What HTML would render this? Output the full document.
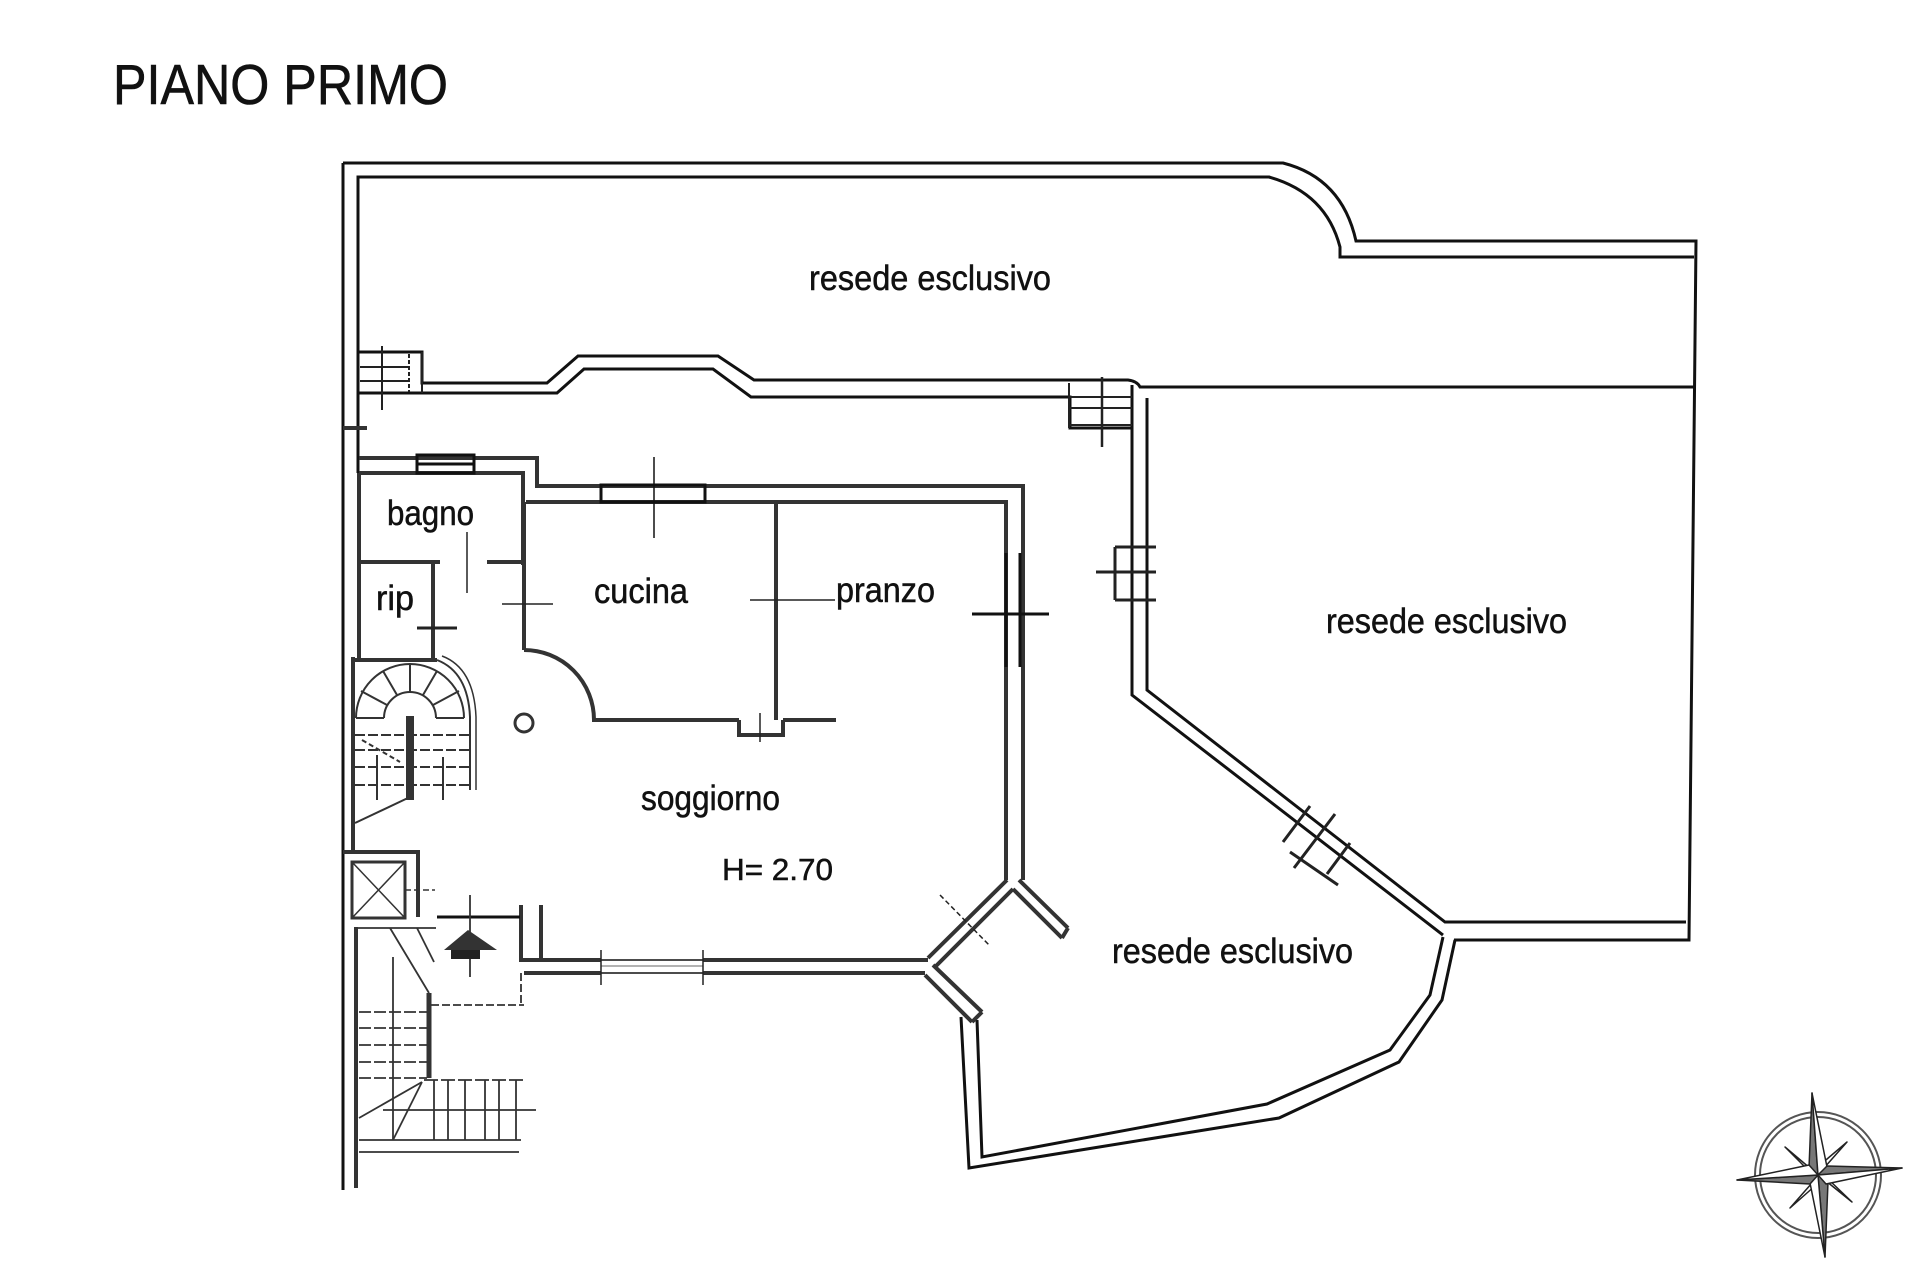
<!DOCTYPE html>
<html><head><meta charset="utf-8"><style>
html,body{margin:0;padding:0;background:#fff;}
svg{display:block;}
text{font-family:"Liberation Sans",sans-serif;fill:#111;}
</style></head><body>
<svg width="1920" height="1280" viewBox="0 0 1920 1280" xmlns="http://www.w3.org/2000/svg">
<rect width="1920" height="1280" fill="#fff"/>
<text x="113" y="104" font-size="57" textLength="335" lengthAdjust="spacingAndGlyphs" stroke="#111" stroke-width="0.6">PIANO PRIMO</text>

<g fill="none" stroke="#111" stroke-width="3" stroke-linejoin="miter">
<!-- outer boundary -->
<path d="M343,163 V1190"/>
<path d="M343,163 H1283 Q1342,178 1356,241 H1696 L1689,940 H1454"/>
<path d="M358,473 V177 H1269 Q1326,193 1340,247 V257 H1694"/>
<!-- band between top resede and house -->
<path d="M358,352 H422 V383 H547 L578,356 H718 L754,380 H1128 Q1137,381 1140,387 H1694"/>
<path d="M358,393 H557 L584,369 H713 L751,397 H1070 V428 H1132"/>
<!-- right resede -->
<path d="M1132,385 V695 L1443,935"/>
<path d="M1147,398 V690 L1445,922 H1686"/>
<!-- bottom resede -->
<path d="M961,1017 L969,1168 L1279,1118 L1399,1062 L1442,1000 L1455,940"/>
<path d="M977,1020 L982,1157 L1267,1104 L1390,1050 L1430,995 L1443,937"/>
</g>

<!-- stair blocks top -->
<g fill="none" stroke="#222" stroke-width="2">
<path d="M422,352 V393"/>
<path d="M360,367 H410 M360,381 H410"/>
<path d="M382,346 V410"/>
<path d="M409,354 V392" stroke-dasharray="4,2"/>
<path d="M1069,383 V428 M1069,397 H1132 M1069,408 H1132 M1069,425 H1132"/>
<path d="M1102,377 V447" stroke-width="2.5"/>
<path d="M1115,547 H1156 M1115,600 H1156 M1115,547 V600 M1096,572 H1156" stroke-width="3"/>
<!-- diagonal window right resede -->
<path d="M1283,842 L1310,806 M1294,868 L1335,814 M1327,874 L1350,843 M1290,852 L1338,885" stroke-width="3"/>
</g>

<!-- interior walls (grey scan) -->
<g fill="none" stroke="#333" stroke-width="4">
<path d="M343,428 H367"/>
<path d="M359,458 H537 V486 H1023 V880"/>
<path d="M359,473 H523 V565"/>
<path d="M526,502 H1006 V880"/>
<path d="M359,473 V658"/>
<path d="M359,562 H440 M487,562 H523"/>
<path d="M433,562 V658"/>
<path d="M524,502 V650"/>
<path d="M524,650 A70,70 0 0 1 594,720 H739 M783,720 H836"/>
<path d="M776,503 V720"/>
<path d="M739,720 V735 H783 V720"/>
<path d="M353,657 V850 M353,660 H437"/>
<path d="M343,852 H418 V917"/>
<path d="M429,993 V1078" stroke-width="5"/>
<path d="M521,905 V960 H601 M703,960 H928"/>
<path d="M541,905 V960"/>
<path d="M524,973 H601 M703,973 H925"/>
<path d="M356,927 V1188"/>
<path d="M1007,880 L928,958 M1013,889 L935,967"/>
<path d="M1019,880 L1068,928 M1013,889 L1062,938 M1062,938 L1068,928"/>
<path d="M933,965 L982,1012 M925,975 L972,1022 M972,1022 L982,1012"/>
</g>

<!-- windows black -->
<g fill="none" stroke="#111" stroke-width="3">
<rect x="417" y="455" width="57" height="18"/>
<path d="M417,464 H474"/>
<rect x="601" y="485" width="104" height="17"/>
<path d="M654,457 V538" stroke-width="1.5"/>
<path d="M1006,553 V667 M1020,553 V667"/>
<path d="M972,614 H1049"/>
<path d="M437,917 H520"/>
<path d="M601,960 H703 M601,973 H703" stroke-width="1.5"/>
<path d="M601,966 H703" stroke-width="1" stroke="#666"/>
</g>

<!-- thin marks -->
<g fill="none" stroke="#222" stroke-width="1.5">
<path d="M467,532 V593"/>
<path d="M417,628 H457" stroke-width="3"/>
<path d="M502,604 H553"/>
<path d="M750,600 H835"/>
<path d="M940,895 L990,946" stroke-dasharray="5,3"/>
<path d="M760,713 V742"/>
<path d="M601,950 V985 M703,950 V985"/>
<circle cx="524" cy="723" r="9" stroke="#333" stroke-width="3"/>
</g>

<!-- spiral stair -->
<g fill="none" stroke="#333" stroke-width="2">
<path d="M437,660 Q468,672 470,717 V790"/>
<path d="M442,656 Q474,668 476,717 V790" stroke-width="1.5"/>
<path d="M356,718 A54,54 0 0 1 464,718"/>
<path d="M384,718 A26,26 0 0 1 436,718"/>
<path d="M356,718 H384 M361,691 L387,705 M383,671 L397,695 M410,664 V692 M437,671 L423,695 M459,691 L433,705 M436,718 H464"/>
<path d="M355,735 H470 M355,750 H470 M355,767 H470 M355,785 H470" stroke-dasharray="10,3"/>
<path d="M355,823 L410,797"/>
<path d="M443,757 V800"/>
<path d="M362,740 L400,762" stroke-dasharray="5,3"/>
<path d="M377,755 V800"/>
</g>
<rect x="406" y="716" width="8" height="84" fill="#333"/>

<!-- elevator -->
<g fill="none" stroke="#333" stroke-width="3">
<rect x="352" y="862" width="53" height="56"/>
<path d="M352,862 L405,918 M405,862 L352,918" stroke-width="1.5"/>
<path d="M405,890 H435" stroke-width="1.5" stroke-dasharray="6,3"/>
</g>

<!-- lower stairs -->
<g fill="none" stroke="#333" stroke-width="1.8">
<path d="M356,928 H436"/>
<path d="M390,928 L429,993 M417,928 L434,962"/>
<path d="M359,1012 H427 M359,1028 H427 M359,1045 H427 M359,1062 H427 M359,1078 H427" stroke-dasharray="12,3"/>
<path d="M393,957 V1140"/>
<path d="M359,1118 L422,1082 M393,1140 L422,1082"/>
<path d="M424,1080 H524" stroke-dasharray="14,3"/>
<path d="M434,1080 V1140 M448,1080 V1140 M465,1080 V1140 M485,1080 V1140 M499,1080 V1140 M516,1080 V1140"/>
<path d="M383,1110 H536 M359,1140 H521 M359,1152 H519"/>
<path d="M431,1005 H524 M521,973 V1005" stroke-dasharray="8,3"/>
<path d="M470,895 V977"/>
</g>
<path d="M444,950 L497,950 L468,930 Z" fill="#333"/>
<rect x="451" y="950" width="29" height="9" fill="#222"/>

<!-- labels -->
<g font-size="35" stroke="#111" stroke-width="0.5">
<text x="809" y="290" textLength="242" lengthAdjust="spacingAndGlyphs">resede esclusivo</text>
<text x="1326" y="633" textLength="241" lengthAdjust="spacingAndGlyphs">resede esclusivo</text>
<text x="1112" y="963" textLength="241" lengthAdjust="spacingAndGlyphs">resede esclusivo</text>
<text x="387" y="525" textLength="87" lengthAdjust="spacingAndGlyphs">bagno</text>
<text x="376" y="610" textLength="38" lengthAdjust="spacingAndGlyphs">rip</text>
<text x="594" y="603" textLength="94" lengthAdjust="spacingAndGlyphs">cucina</text>
<text x="836" y="602" textLength="99" lengthAdjust="spacingAndGlyphs">pranzo</text>
<text x="641" y="810" textLength="139" lengthAdjust="spacingAndGlyphs">soggiorno</text>
<text x="722" y="880" font-size="31" textLength="111" lengthAdjust="spacingAndGlyphs">H= 2.70</text>
</g>

<!-- compass -->
<g>
<circle cx="1818" cy="1175" r="63" fill="none" stroke="#555" stroke-width="2"/>
<circle cx="1818" cy="1175" r="58" fill="none" stroke="#555" stroke-width="2"/>
<g stroke="#222" stroke-width="1.5" stroke-linejoin="round">
<polygon points="1847,1142 1824,1168 1818,1175 1820,1165" fill="#fff"/>
<polygon points="1785,1147 1811,1169 1818,1175 1808,1170" fill="#fff"/>
<polygon points="1852,1202 1826,1181 1818,1175 1828,1179" fill="#fff"/>
<polygon points="1790,1208 1812,1183 1818,1175 1816,1185" fill="#fff"/>
<polygon points="1812,1093 1809,1168 1818,1175" fill="#777"/>
<polygon points="1812,1093 1827,1167 1818,1175" fill="#fff"/>
<polygon points="1825,1257 1828,1182 1818,1175" fill="#777"/>
<polygon points="1825,1257 1810,1183 1818,1175" fill="#fff"/>
<polygon points="1902,1168 1827,1166 1818,1175" fill="#777"/>
<polygon points="1902,1168 1826,1184 1818,1175" fill="#fff"/>
<polygon points="1737,1180 1810,1184 1818,1175" fill="#777"/>
<polygon points="1737,1180 1809,1165 1818,1175" fill="#fff"/>
</g>
</g>
</svg>
</body></html>
